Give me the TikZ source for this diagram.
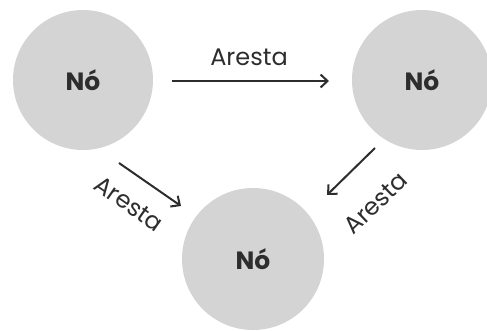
\documentclass[tikz,border=0pt]{standalone}
\usepackage{fontspec}
\setmainfont{Poppins}
\usetikzlibrary{arrows.meta}
\definecolor{nodegray}{RGB}{212,212,212}
\definecolor{ink}{RGB}{45,45,45}
\tikzset{
  vertex/.style={circle, fill=nodegray, minimum size=140pt, inner sep=0pt,
    text=ink, font=\fontsize{25}{27}\selectfont\bfseries},
  edge/.style={draw=ink, line width=2pt, -{Straight Barb[length=7pt,width=13pt,line width=2pt]}},
  elabel/.style={text=ink, font=\fontsize{24}{26}\selectfont, inner sep=0pt}
}
\begin{document}
\begin{tikzpicture}[x=1pt,y=-1pt]
  \useasboundingbox (0,0) rectangle (487,330);
  % vertices
  \node[vertex] (a) at (83,80) {Nó};
  \node[vertex] (b) at (422,80) {Nó};
  \node[vertex, minimum size=142pt] (c) at (253,259) {Nó};
  % arrow end points
  \coordinate (ab1) at (172,81);
  \coordinate (ab2) at (329,81);
  \coordinate (ac1) at (119,163);
  \coordinate (ac2) at (181,206);
  \coordinate (bc1) at (375,148);
  \coordinate (bc2) at (327,195);
  % edges
  \draw[edge] (ab1) -- (ab2);
  \draw[edge] (ac1) -- (ac2);
  \draw[edge] (bc1) -- (bc2);
  % edge labels
  \node[elabel] (lab) at (249,57) {Aresta};
  \node[elabel, rotate=-35] (lac) at (129,204) {Aresta};
  \node[elabel, rotate=44] (lbc) at (376,203) {Aresta};
\end{tikzpicture}
\end{document}
